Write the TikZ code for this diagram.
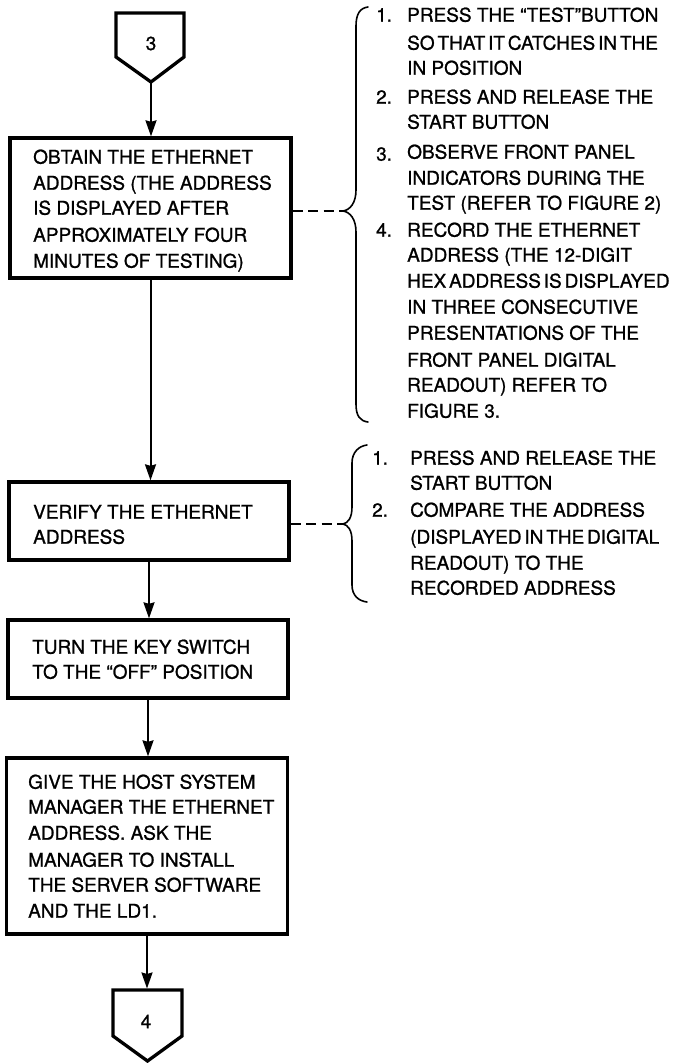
\documentclass[tikz,border=0pt]{standalone}
\usepackage{fontspec}
\setmainfont{TeX Gyre Heros}[FakeBold=1.0]
\usetikzlibrary{arrows.meta}

% narrower interword space for the longest note lines
\newcommand\narrowspacing{\spaceskip=0.15em\relax}

\tikzset{
  box/.style={draw, rectangle, line width=3.3pt, inner sep=0pt},
  conn/.style={line width=3.3pt, line join=miter},
  flow/.style={line width=2pt, -{Stealth[length=16pt,width=11pt,inset=1.5pt]}},
  dashline/.style={line width=1.6pt, dash pattern=on 10pt off 5.5pt},
  brace/.style={line width=1.6pt, line cap=round},
  txt/.style={anchor=base west, inner sep=0pt, font=\fontsize{19}{19}\selectfont},
  digit/.style={anchor=center, inner sep=0pt, font=\fontsize{19}{19}\selectfont}
}

\begin{document}
\begin{tikzpicture}[x=1pt,y=-1pt]
\useasboundingbox (0,0) rectangle (675,1063);
\fill[white] (0,0) rectangle (675,1063);

% off-page connector "3"
\draw[conn] (116,13) -- (184,13) -- (184,57) -- (151,82) -- (116,57) -- cycle;
\node[digit] (c3) at (151,43.5) {3};
\coordinate (c3tip) at (151,82);

% process boxes
\node[box, minimum width=281pt, minimum height=140pt] (b1) at (150.5,208) {};
\node[box, minimum width=280pt, minimum height=78pt] (b2) at (149,521) {};
\node[box, minimum width=280pt, minimum height=78pt] (b3) at (148,659) {};
\node[box, minimum width=281pt, minimum height=176pt] (b4) at (147,846) {};

% box texts
\node[txt] (b1a) at (33,163.7) {OBTAIN THE ETHERNET};
\node[txt] (b1b) at (33,189.7) {ADDRESS (THE ADDRESS};
\node[txt] (b1c) at (33,214.7) {IS DISPLAYED AFTER};
\node[txt] (b1d) at (33,241.7) {APPROXIMATELY FOUR};
\node[txt] (b1e) at (33,267.7) {MINUTES OF TESTING)};

\node[txt] (b2a) at (33,518.7) {VERIFY THE ETHERNET};
\node[txt] (b2b) at (33,543.7) {ADDRESS};

\node[txt] (b3a) at (32,653.7) {TURN THE KEY SWITCH};
\node[txt] (b3b) at (32,678.7) {TO THE “OFF” POSITION};

\node[txt] (b4a) at (28,788.7) {GIVE THE HOST SYSTEM};
\node[txt] (b4b) at (28,813.7) {MANAGER THE ETHERNET};
\node[txt] (b4c) at (28,839.7) {ADDRESS. ASK THE};
\node[txt] (b4d) at (28,866.7) {MANAGER TO INSTALL};
\node[txt] (b4e) at (28,891.7) {THE SERVER SOFTWARE};
\node[txt] (b4f) at (28,917.7) {AND THE LD1.};

% off-page connector "4"
\draw[conn] (113,990) -- (182,990) -- (182,1036) -- (147.5,1061) -- (113,1036) -- cycle;
\node[digit] (c4) at (146,1021.5) {4};
\coordinate (c4top) at (147,988.5);

% flow arrows
\draw[flow] (c3tip) -- (c3tip |- b1.north);
\draw[flow] (b1.south) -- (b1.south |- b2.north);
\draw[flow] (b2.south) -- (b2.south |- b3.north);
\draw[flow] (b3.south) -- (b3.south |- b4.north);
\draw[flow] (b4.south) -- (c4top);

% first group of notes
\coordinate (t1) at (343,211);
\draw[dashline] (b1.east |- t1) -- (t1);
\draw[brace] (368,7) .. controls (360,8) and (356,14) .. (356,26)
  -- (356,190) .. controls (356,203) and (350,210) .. (t1)
  .. controls (350,212) and (356,219) .. (356,232)
  -- (356,404) .. controls (356,416) and (360,421) .. (368,422);

\node[txt] (n1) at (376,21.7) {1.};
\node[txt] (s1a) at (407,21.7) {PRESS THE “TEST”BUTTON};
\node[txt] (s1b) at (407,49.7) {\narrowspacing SO THAT IT CATCHES IN THE};
\node[txt] (s1c) at (407,74.7) {IN POSITION};
\node[txt] (n2) at (376,103.7) {2.};
\node[txt] (s2a) at (407,103.7) {PRESS AND RELEASE THE};
\node[txt] (s2b) at (407,128.7) {START BUTTON};
\node[txt] (n3) at (376,160.7) {3.};
\node[txt] (s3a) at (407,158.7) {OBSERVE FRONT PANEL};
\node[txt] (s3b) at (407,184.7) {INDICATORS DURING THE};
\node[txt] (s3c) at (407,209.7) {TEST (REFER TO FIGURE 2)};
\node[txt] (n4) at (376,236.7) {4.};
\node[txt] (s4a) at (407,236.7) {RECORD THE ETHERNET};
\node[txt] (s4b) at (407,261.7) {ADDRESS (THE 12-DIGIT};
\node[txt] (s4c) at (407,287.7) {\narrowspacing HEX ADDRESS IS DISPLAYED};
\node[txt] (s4d) at (407,313.7) {IN THREE CONSECUTIVE};
\node[txt] (s4e) at (407,339.7) {PRESENTATIONS OF THE};
\node[txt] (s4f) at (407,366.7) {FRONT PANEL DIGITAL};
\node[txt] (s4g) at (407,391.7) {READOUT) REFER TO};
\node[txt] (s4h) at (407,417.7) {FIGURE 3.};

% second group of notes
\coordinate (t2) at (343,524);
\draw[dashline] (b2.east |- t2) -- (t2);
\draw[brace] (367,445) .. controls (359,446) and (352,452) .. (352,463)
  -- (352,507) .. controls (352,518) and (348,523) .. (t2)
  .. controls (348,525) and (352,530) .. (352,541)
  -- (352,585) .. controls (352,596) and (359,601) .. (367,602);

\node[txt] (m1) at (372,464.7) {1.};
\node[txt] (r1a) at (410,464.7) {PRESS AND RELEASE THE};
\node[txt] (r1b) at (410,489.7) {START BUTTON};
\node[txt] (m2) at (372,516.7) {2.};
\node[txt] (r2a) at (410,516.7) {COMPARE THE ADDRESS};
\node[txt] (r2b) at (410,543.7) {\narrowspacing (DISPLAYED IN THE DIGITAL};
\node[txt] (r2c) at (410,569.7) {READOUT) TO THE};
\node[txt] (r2d) at (410,594.7) {RECORDED ADDRESS};

\end{tikzpicture}
\end{document}
